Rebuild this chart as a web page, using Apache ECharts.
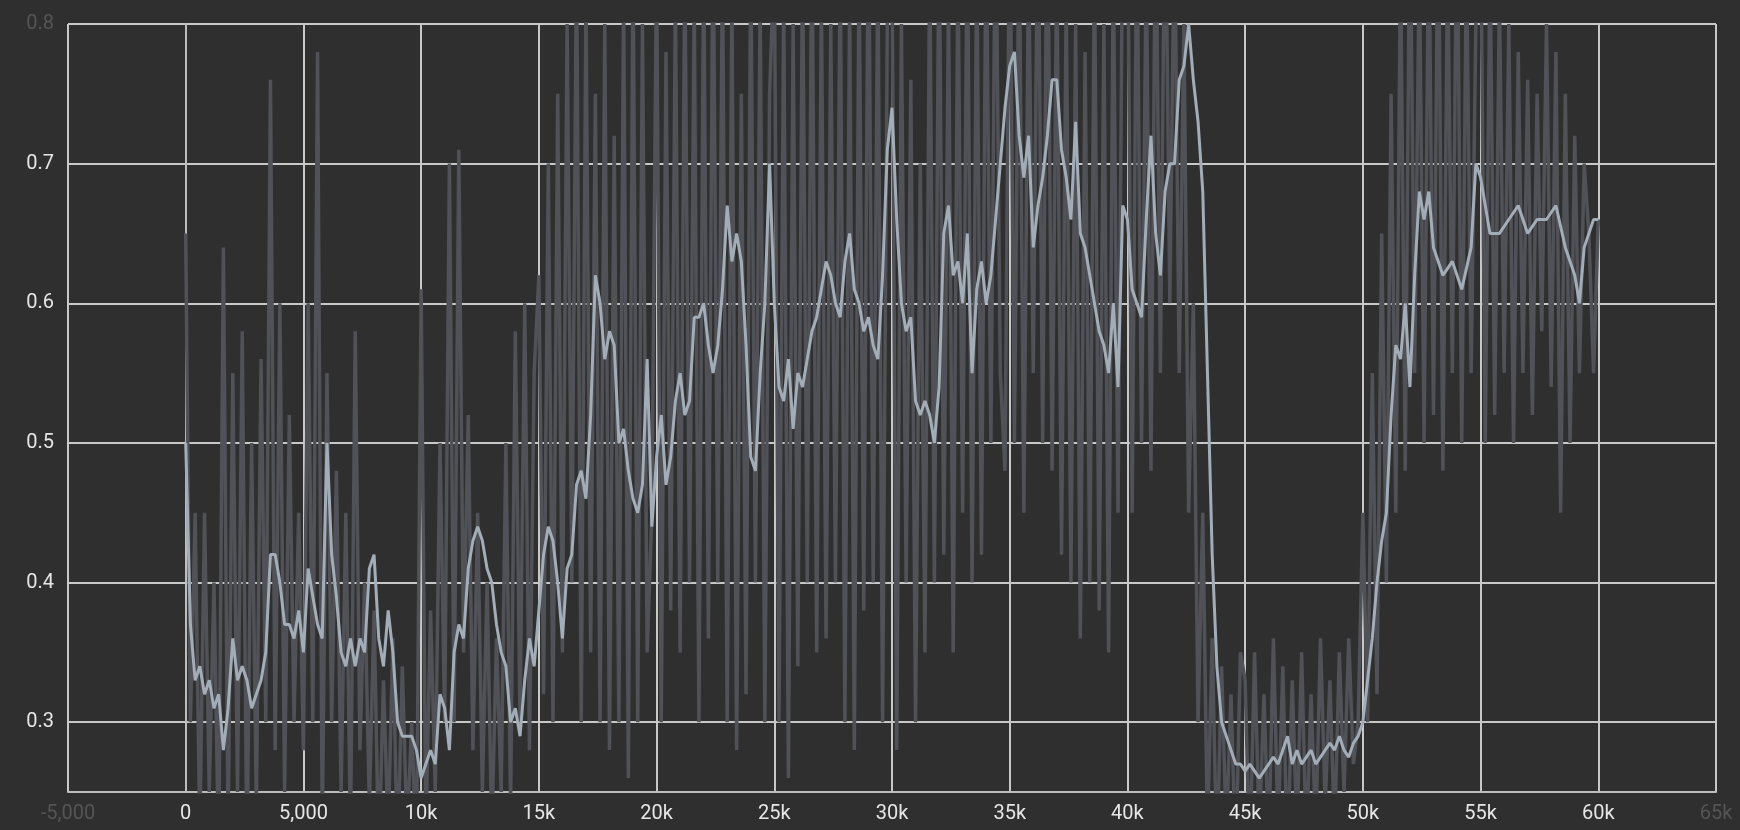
<!DOCTYPE html>
<html>
<head>
<meta charset="utf-8">
<script src="https://cdn.jsdelivr.net/npm/echarts@6/dist/echarts.min.js"></script>
<style>
  html, body { margin: 0; padding: 0; background: #2f2f2f; }
  #chart { width: 1740px; height: 830px; }
</style>
</head>
<body>
<div id="chart"></div>
<script>
// smoothed curve: [step, value]
var smoothed = [
  [0,0.50],[200,0.37],[400,0.33],[600,0.34],[800,0.32],[1000,0.33],[1200,0.31],[1400,0.32],[1600,0.28],[1800,0.31],
  [2000,0.36],[2200,0.33],[2400,0.34],[2600,0.33],[2800,0.31],[3000,0.32],[3200,0.33],[3400,0.35],[3600,0.42],[3800,0.42],
  [4000,0.40],[4200,0.37],[4400,0.37],[4600,0.36],[4800,0.38],[5000,0.35],[5200,0.41],[5400,0.39],[5600,0.37],[5800,0.36],
  [6000,0.50],[6200,0.42],[6400,0.39],[6600,0.35],[6800,0.34],[7000,0.36],[7200,0.34],[7400,0.36],[7600,0.35],[7800,0.41],
  [8000,0.42],[8200,0.36],[8400,0.34],[8600,0.38],[8800,0.35],[9000,0.30],[9200,0.29],[9400,0.29],[9600,0.29],[9800,0.28],
  [10000,0.26],[10200,0.27],[10400,0.28],[10600,0.27],[10800,0.32],[11000,0.31],[11200,0.28],[11400,0.35],[11600,0.37],[11800,0.36],
  [12000,0.41],[12200,0.43],[12400,0.44],[12600,0.43],[12800,0.41],[13000,0.40],[13200,0.37],[13400,0.35],[13600,0.34],[13800,0.30],
  [14000,0.31],[14200,0.29],[14400,0.33],[14600,0.36],[14800,0.34],[15000,0.38],[15200,0.42],[15400,0.44],[15600,0.43],[15800,0.40],
  [16000,0.36],[16200,0.41],[16400,0.42],[16600,0.47],[16800,0.48],[17000,0.46],[17200,0.52],[17400,0.62],[17600,0.60],[17800,0.56],
  [18000,0.58],[18200,0.57],[18400,0.50],[18600,0.51],[18800,0.48],[19000,0.46],[19200,0.45],[19400,0.47],[19600,0.56],[19800,0.44],
  [20000,0.49],[20200,0.52],[20400,0.47],[20600,0.49],[20800,0.53],[21000,0.55],[21200,0.52],[21400,0.53],[21600,0.59],[21800,0.59],
  [22000,0.60],[22200,0.57],[22400,0.55],[22600,0.57],[22800,0.61],[23000,0.67],[23200,0.63],[23400,0.65],[23600,0.63],[23800,0.57],
  [24000,0.49],[24200,0.48],[24400,0.55],[24600,0.60],[24800,0.70],[25000,0.60],[25200,0.54],[25400,0.53],[25600,0.56],[25800,0.51],
  [26000,0.55],[26200,0.54],[26400,0.56],[26600,0.58],[26800,0.59],[27000,0.61],[27200,0.63],[27400,0.62],[27600,0.60],[27800,0.59],
  [28000,0.63],[28200,0.65],[28400,0.61],[28600,0.60],[28800,0.58],[29000,0.59],[29200,0.57],[29400,0.56],[29600,0.62],[29800,0.71],
  [30000,0.74],[30200,0.66],[30400,0.60],[30600,0.58],[30800,0.59],[31000,0.53],[31200,0.52],[31400,0.53],[31600,0.52],[31800,0.50],
  [32000,0.54],[32200,0.65],[32400,0.67],[32600,0.62],[32800,0.63],[33000,0.60],[33200,0.65],[33400,0.55],[33600,0.61],[33800,0.63],
  [34000,0.60],[34200,0.62],[34400,0.66],[34600,0.70],[34800,0.74],[35000,0.77],[35200,0.78],[35400,0.72],[35600,0.69],[35800,0.72],
  [36000,0.64],[36200,0.67],[36400,0.69],[36600,0.72],[36800,0.76],[37000,0.76],[37200,0.71],[37400,0.69],[37600,0.66],[37800,0.73],
  [38000,0.65],[38200,0.64],[38400,0.62],[38600,0.60],[38800,0.58],[39000,0.57],[39200,0.55],[39400,0.60],[39600,0.54],[39800,0.67],
  [40000,0.66],[40200,0.61],[40400,0.60],[40600,0.59],[40800,0.66],[41000,0.72],[41200,0.65],[41400,0.62],[41600,0.68],[41800,0.70],
  [42000,0.70],[42200,0.76],[42400,0.77],[42600,0.80],[42800,0.76],[43000,0.73],[43200,0.68],[43400,0.55],[43600,0.42],[43800,0.34],
  [44000,0.30],[44200,0.29],[44400,0.28],[44600,0.27],[44800,0.27],[45000,0.265],[45200,0.27],[45400,0.265],[45600,0.26],[45800,0.265],
  [46000,0.27],[46200,0.275],[46400,0.27],[46600,0.28],[46800,0.29],[47000,0.27],[47200,0.28],[47400,0.27],[47600,0.275],[47800,0.28],
  [48000,0.27],[48200,0.275],[48400,0.28],[48600,0.285],[48800,0.28],[49000,0.29],[49200,0.28],[49400,0.275],[49600,0.285],[49800,0.29],
  [50000,0.30],[50200,0.33],[50400,0.36],[50600,0.40],[50800,0.43],[51000,0.45],[51200,0.52],[51400,0.57],[51600,0.56],[51800,0.60],
  [52000,0.54],[52200,0.62],[52400,0.68],[52600,0.66],[52800,0.68],[53000,0.64],[53400,0.62],[53800,0.63],[54200,0.61],[54600,0.64],
  [54800,0.70],[55000,0.69],[55400,0.65],[55800,0.65],[56200,0.66],[56600,0.67],[57000,0.65],[57400,0.66],[57800,0.66],[58200,0.67],
  [58600,0.64],[59000,0.62],[59200,0.60],[59400,0.64],[59800,0.66],[60000,0.66]
];

// raw (unsmoothed) values, evenly spaced from step 0 to 60000
var raw = [
  0.65,0.30,0.45,0.22,0.45,0.25,0.40,0.20,0.64,0.22,0.55,0.25,0.58,0.20,0.50,0.24,0.56,0.30,0.76,0.28,0.60,0.25,0.52,0.30,0.45,
  0.28,0.60,0.30,0.78,0.22,0.55,0.30,0.48,0.25,0.45,0.22,0.58,0.28,0.40,0.24,0.38,0.20,0.33,0.22,0.36,0.20,0.34,0.22,0.30,0.20,
  0.61,0.22,0.38,0.25,0.50,0.30,0.70,0.30,0.71,0.35,0.52,0.28,0.45,0.25,0.40,0.22,0.36,0.25,0.50,0.24,0.58,0.30,0.60,0.28,0.55,
  0.62,0.32,0.70,0.30,0.75,0.35,0.80,0.40,0.85,0.30,0.82,0.35,0.75,0.30,0.80,0.28,0.72,0.30,0.82,0.26,0.85,0.30,0.80,0.35,0.45,
  0.85,0.30,0.78,0.38,0.82,0.35,0.85,0.40,0.82,0.30,0.85,0.36,0.88,0.40,0.85,0.30,0.82,0.28,0.75,0.32,0.85,0.40,0.82,0.30,0.75,
  0.85,0.30,0.82,0.26,0.80,0.34,0.85,0.40,0.88,0.35,0.82,0.36,0.80,0.40,0.85,0.30,0.82,0.28,0.85,0.38,0.90,0.40,0.85,0.30,0.80,
  0.85,0.28,0.80,0.40,0.76,0.30,0.70,0.35,0.85,0.40,0.88,0.42,0.82,0.35,0.85,0.45,0.88,0.40,0.85,0.42,0.88,0.50,0.90,0.55,0.48,
  0.90,0.50,0.88,0.45,0.85,0.55,0.90,0.50,0.92,0.48,0.85,0.42,0.82,0.40,0.80,0.36,0.78,0.40,0.85,0.38,0.80,0.35,0.85,0.45,0.88,
  0.90,0.45,0.88,0.50,0.85,0.48,0.90,0.55,0.92,0.60,0.88,0.55,0.80,0.45,0.60,0.30,0.45,0.22,0.36,0.20,0.34,0.22,0.32,0.20,0.35,
  0.33,0.20,0.35,0.22,0.32,0.21,0.36,0.22,0.34,0.20,0.33,0.22,0.35,0.21,0.32,0.22,0.36,0.24,0.33,0.22,0.35,0.25,0.36,0.27,0.30,
  0.45,0.30,0.55,0.32,0.65,0.40,0.75,0.45,0.85,0.48,0.90,0.55,0.85,0.50,0.88,0.52,0.90,0.48,0.85,0.55,0.90,0.50,0.85,0.55,0.80,
  0.88,0.50,0.85,0.52,0.82,0.55,0.80,0.50,0.78,0.55,0.76,0.52,0.75,0.58,0.80,0.54,0.78,0.45,0.75,0.50,0.72,0.55,0.70,0.65,0.55,
  0.66
];

var yTicks = [0.3, 0.4, 0.5, 0.6, 0.7, 0.8];
var xMin = -5000, xMax = 65000, xInterval = 5000;
var yMin = 0.25, yMax = 0.8;

var rawData = raw.map(function (v, i) { return [i * 60000 / (raw.length - 1), v]; });

var labelColor = '#e6e6e6', dimColor = '#555555', gridColor = '#c8c8c8';

var chart = echarts.init(document.getElementById('chart'));
chart.setOption({
  backgroundColor: '#2f2f2f',
  animation: false,
  grid: { left: 68, top: 24, right: 24, bottom: 38 },
  xAxis: {
    type: 'value', min: xMin, max: xMax, interval: xInterval,
    axisLine: { show: true, lineStyle: { color: '#bdbdbd', width: 2 } },
    axisTick: { show: false },
    splitLine: { show: true, lineStyle: { color: gridColor, width: 2 } },
    axisLabel: {
      fontFamily: 'Roboto', fontSize: 20, margin: 12, showMinLabel: true, showMaxLabel: true,
      color: function (v) { return (v < 0 || v > 60000) ? dimColor : labelColor; },
      formatter: function (v) {
        if (v === 0) return '0';
        if (v === 5000) return '5,000';
        if (v === -5000) return '-5,000';
        return (v / 1000) + 'k';
      }
    }
  },
  yAxis: {
    type: 'value', min: yMin, max: yMax,
    axisLine: { show: true, lineStyle: { color: '#bdbdbd', width: 2 } },
    axisTick: { show: false, customValues: yTicks },
    splitLine: { show: true, lineStyle: { color: gridColor, width: 2 } },
    axisLabel: {
      fontFamily: 'Roboto', fontSize: 20, margin: 14, customValues: yTicks,
      color: function (v) { return v > 0.75 ? dimColor : labelColor; },
      formatter: function (v) { return v.toFixed(1); }
    }
  },
  series: [
    {
      type: 'line', data: rawData, symbol: 'none', clip: true,
      lineStyle: { color: '#505257', width: 3.5 }, z: 2
    },
    {
      type: 'line', data: smoothed, symbol: 'none', clip: true,
      lineStyle: { color: '#a3adb8', width: 3 }, z: 3
    }
  ]
});
</script>
</body>
</html>
